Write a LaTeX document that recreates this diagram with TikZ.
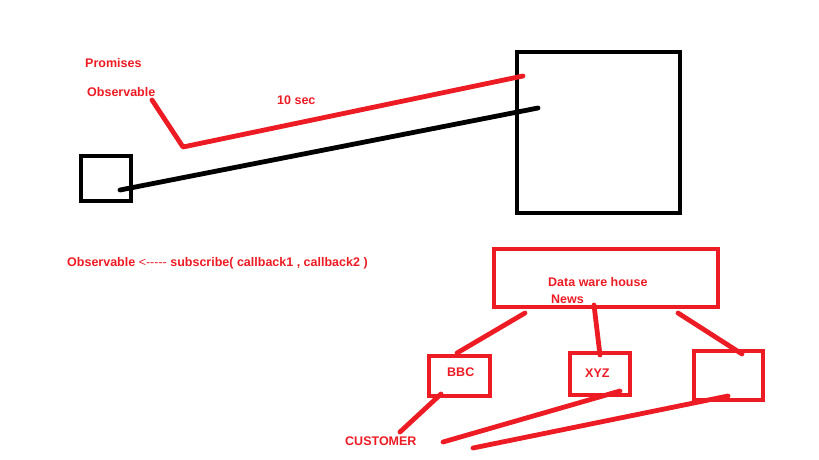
\documentclass[tikz,border=0pt]{standalone}
\usepackage{fontspec}
\setmainfont{Liberation Sans}
\definecolor{pred}{RGB}{237,28,36}
\tikzset{
  lbl/.style={text=pred, font=\fontsize{12.5}{14}\selectfont\bfseries, anchor=west, inner sep=0pt},
  blkbox/.style={draw=black, line width=4.8pt},
  redbox/.style={draw=pred, line width=4.8pt},
  blkline/.style={draw=black, line width=4.8pt, line cap=round, line join=round},
  redline/.style={draw=pred, line width=4.8pt, line cap=round, line join=round}
}
\begin{document}
\begin{tikzpicture}[x=1pt,y=-1pt]
\useasboundingbox[fill=white] (0,0) rectangle (819,460);
% boxes
\draw[blkbox] (517,52) rectangle (680,213) node[pos=0.5,inner sep=0] (big) {};
\draw[blkbox] (81,156) rectangle (131,201) node[pos=0.5,inner sep=0] (small) {};
\draw[redbox] (494,249) rectangle (718,307) node[pos=0.5,inner sep=0] (dwh) {};
\draw[redbox] (429,356) rectangle (490,396) node[pos=0.5,inner sep=0] (bbc) {};
\draw[redbox] (570,353) rectangle (630,395) node[pos=0.5,inner sep=0] (xyz) {};
\draw[redbox] (694,351) rectangle (763,400) node[pos=0.5,inner sep=0] (rbox) {};
% coordinates
\coordinate (b1) at (120,190);
\coordinate (b2) at (538,108);
\coordinate (r1) at (152,100);
\coordinate (r2) at (183,147);
\coordinate (r3) at (523,76);
\coordinate (d1) at (525,313);
\coordinate (bb1) at (457,353);
\coordinate (d2) at (594,305);
\coordinate (x1) at (600,355);
\coordinate (d3) at (678,313);
\coordinate (rb1) at (742,354);
\coordinate (bb2) at (441,394);
\coordinate (c1) at (400,432);
\coordinate (x2) at (620,391);
\coordinate (c2) at (443,442);
\coordinate (rb2) at (728,396);
\coordinate (c3) at (473,448);
% connectors
\draw[blkline] (b1) -- (b2);
\draw[redline] (r1) -- (r2) -- (r3);
\draw[redline] (d1) -- (bb1);
\draw[redline] (d2) -- (x1);
\draw[redline] (d3) -- (rb1);
\draw[redline] (bb2) -- (c1);
\draw[redline] (x2) -- (c2);
\draw[redline] (rb2) -- (c3);
% labels
\node[lbl] (t1) at (85,63) {Promises};
\node[lbl] (t2) at (87,92) {Observable};
\node[lbl] (t3) at (277,100) {10 sec};
\node[lbl] (t4) at (67,263) {Observable {\mdseries<-{}-{}-{}-{}-} subscribe( callback1 , callback2 )};
\node[lbl] (t5) at (548,282) {Data ware house};
\node[lbl] (t6) at (551,299) {News};
\node[lbl] (t7) at (447,372) {BBC};
\node[lbl] (t8) at (585,373) {XYZ};
\node[lbl] (t9) at (345,441) {CUSTOMER};
\end{tikzpicture}
\end{document}
